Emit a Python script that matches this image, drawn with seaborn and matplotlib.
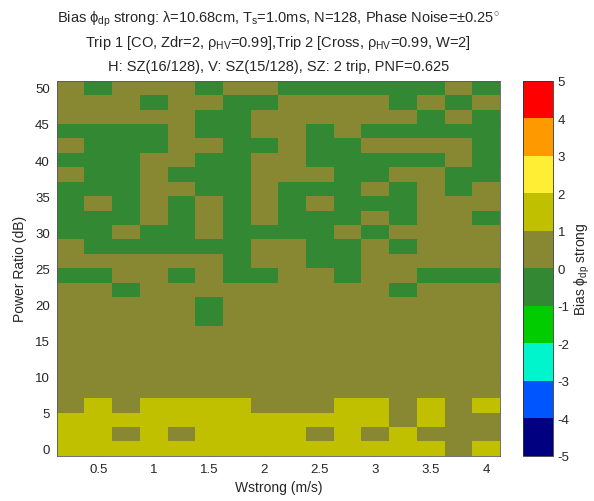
import matplotlib
matplotlib.use("Agg")
import matplotlib.pyplot as plt
from matplotlib.colors import ListedColormap
import seaborn as sns
import numpy as np
import pandas as pd

# columns: Wstrong (m/s), rows: power ratio (dB) from top to bottom
w_strong = [0.25, 0.5, 0.75, 1.0, 1.25, 1.5, 1.75, 2.0,
            2.25, 2.5, 2.75, 3.0, 3.25, 3.5, 3.75, 4.0]
power_ratio = [50, 48, 46, 44, 42, 40, 38, 36, 34, 32, 30, 28, 26,
               24, 22, 20, 18, 16, 14, 12, 10, 8, 6, 4, 2, 0]

# bias class per cell: G = -1..0, O = 0..1, Y = 1..2
bias_rows = [
    "OGOOOGOOGGGGGGOG",
    "OOOGOOGGOOOOGOGO",
    "OOOOOGGOOOOOOGOG",
    "GGGGOGGOOGOGGGGG",
    "OGGGOOGGOGGOOOOG",
    "GGGOOGGOOGGGGGOG",
    "OGGOGGGOOOGGOOGG",
    "GGGOOGGOGGGOGOGO",
    "GOGOGOGOGOGGGOOO",
    "GGGOGOGOGGGOGOOG",
    "GGOGGOGGGGOGOOOO",
    "OGGGGGGOOGGOGOOO",
    "OOOOOOGOOGGOOOOO",
    "GGOOGOGGOOGOOGGG",
    "OOGOOOOOOOOOGOOO",
    "OOOOOGOOOOOOOOOO",
    "OOOOOGOOOOOOOOOO",
    "OOOOOOOOOOOOOOOO",
    "OOOOOOOOOOOOOOOO",
    "OOOOOOOOOOOOOOOO",
    "OOOOOOOOOOOOOOOO",
    "OOOOOOOOOOOOOOOO",
    "OYOYYYYOOOYYOYOY",
    "YYYYYYYYYYYYOYOO",
    "YYOYOYYYYOYOYOOO",
    "YYYYYYYYYYYYYYOY",
]
bias_level = {"G": -0.5, "O": 0.5, "Y": 1.5}

x_ticks = [0.5, 1.0, 1.5, 2.0, 2.5, 3.0, 3.5, 4.0]
y_ticks = [0, 5, 10, 15, 20, 25, 30, 35, 40, 45, 50]
cbar_ticks = [-5, -4, -3, -2, -1, 0, 1, 2, 3, 4, 5]

level_colors = ["#000080", "#0055ff", "#00f5cc", "#00cc00", "#338833",
                "#888833", "#c0c000", "#ffee33", "#ff9900", "#ff0000"]

grid = np.array([[bias_level[c] for c in row] for row in bias_rows])
df = pd.DataFrame(grid, index=power_ratio, columns=w_strong)

sns.set_style("white")
plt.rcParams["font.family"] = ["Liberation Sans", "DejaVu Sans"]
plt.rcParams["mathtext.fontset"] = "custom"
plt.rcParams["mathtext.rm"] = "Liberation Sans"
plt.rcParams["mathtext.it"] = "Liberation Sans"
plt.rcParams["axes.unicode_minus"] = False

fig = plt.figure(figsize=(5.94, 5.02), dpi=100)
ax = fig.add_axes([0.0955, 0.0898, 0.7461, 0.7475])
cax = fig.add_axes([523.3 / 594, 0.0898, 30 / 594, 0.7475])

cmap = ListedColormap(level_colors)
sns.heatmap(df, ax=ax, cbar_ax=cax, cmap=cmap, vmin=-5, vmax=5,
            xticklabels=False, yticklabels=False,
            cbar_kws={"ticks": cbar_ticks})

# map data values onto heatmap cell positions
col_pos = np.arange(len(w_strong)) + 0.5
row_pos = np.arange(len(power_ratio)) + 0.5
ax.set_xticks(np.interp(x_ticks, w_strong, col_pos))
ax.set_xticklabels([f"{v:g}" for v in x_ticks], fontsize=9.5)
ax.set_yticks(np.interp(y_ticks, power_ratio[::-1], row_pos[::-1]))
ax.set_yticklabels([f"{v:g}" for v in y_ticks], fontsize=9.5, rotation=0)
ax.tick_params(direction="in", length=3, width=0.5, color="0.4",
               top=True, right=True, bottom=True, left=True, pad=5)
for s in ax.spines.values():
    s.set_visible(True)
    s.set_linewidth(0.6)
    s.set_color("0.35")

ax.set_xlabel("Wstrong (m/s)", fontsize=10)
ax.set_ylabel("Power Ratio (dB)", fontsize=10, labelpad=6)

cb = ax.collections[0].colorbar
cb.outline.set_visible(True)
cb.outline.set_linewidth(0.6)
cb.outline.set_edgecolor("0.2")
cax.tick_params(length=0, labelsize=9.5, pad=3)
cb.set_label(r"Bias $\phi_{dp}$ strong", fontsize=10, labelpad=2)

title_lines = [
    r"Bias $\phi_{dp}$ strong: $\lambda$=10.68cm, T$_{s}$=1.0ms, N=128, Phase Noise=$\pm$0.25$^{\circ}$",
    r"Trip 1 [CO, Zdr=2, $\rho_{HV}$=0.99],Trip 2 [Cross, $\rho_{HV}$=0.99, W=2]",
    "H: SZ(16/128), V: SZ(15/128), SZ: 2 trip, PNF=0.625",
]
title_x = (56.7 + 499.9) / 2 / 594
for i, line in enumerate(title_lines):
    fig.text(title_x, 1 - (23 + 24 * i) / 502, line, ha="center",
             va="baseline", fontsize=10.5)

fig.savefig("out.png", dpi=100)
